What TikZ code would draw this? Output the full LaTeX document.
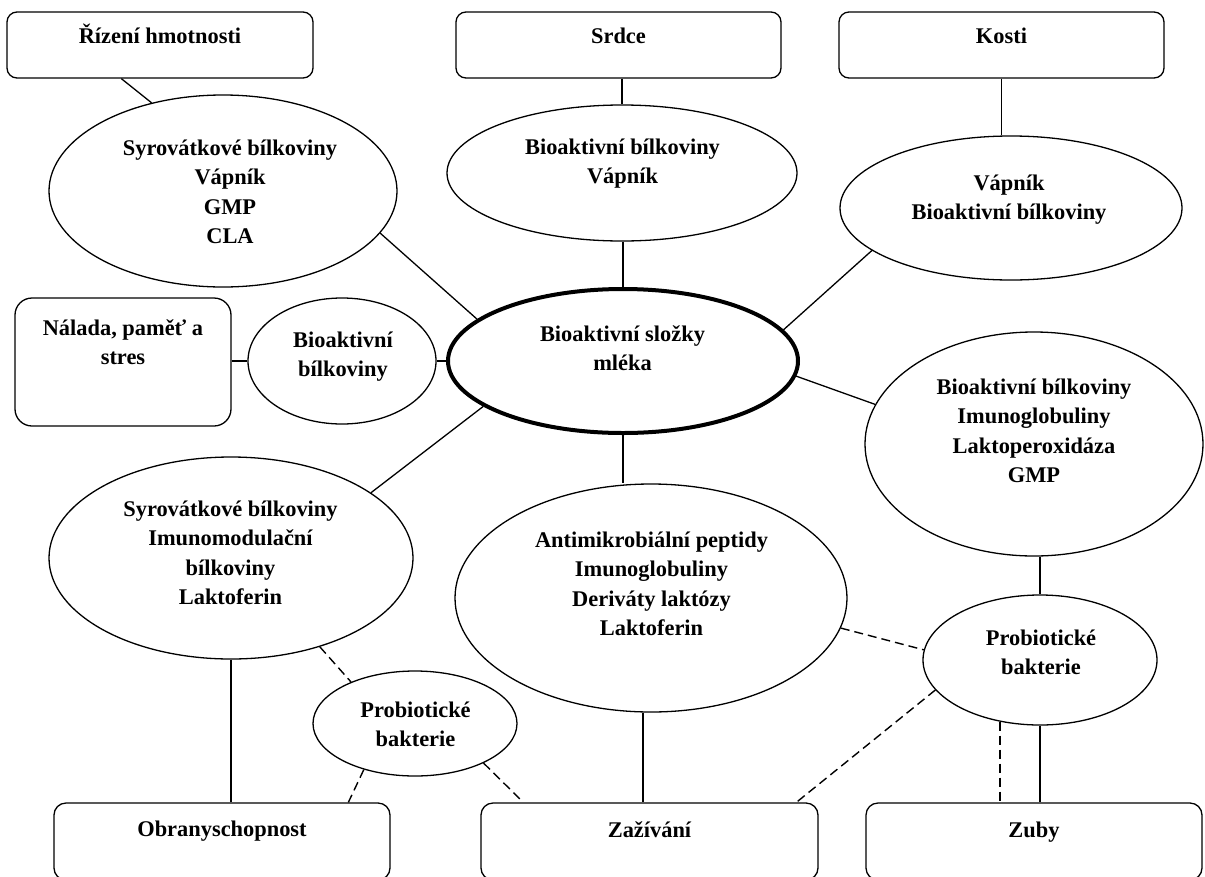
\documentclass[tikz,border=0pt]{standalone}
\usepackage{fontspec}
\setmainfont{Liberation Serif}
\usetikzlibrary{shapes.geometric,calc}
\newcommand\mlines[1]{\vtop{\halign{\hfil##\hfil\cr#1\crcr}}}
\begin{document}
\begin{tikzpicture}[x=1pt,y=-1pt,
  ln/.style={line width=1.3pt},
  dsh/.style={line width=1.4pt, dash pattern=on 9pt off 5pt},
  ell/.style={draw, ellipse, line width=1.3pt, inner sep=0pt, fill=white},
  box/.style={draw, rectangle, rounded corners=10pt, line width=1.3pt, inner sep=0pt},
  txt/.style={font=\bfseries\fontsize{22.4}{29.6}\selectfont, anchor=base, inner sep=0pt},
]
\useasboundingbox (0,0) rectangle (1205,876);
\clip (0,0) rectangle (1205,876);
\fill[white] (0,0) rectangle (1205,876);

% boxes
\node[box, minimum width=306pt, minimum height=66pt] (rh) at (160,45) {};
\node[box, minimum width=325pt, minimum height=66pt] (sr) at (618.5,45) {};
\node[box, minimum width=325pt, minimum height=66pt] (ko) at (1001.5,45) {};
\node[box, rounded corners=17pt, minimum width=216pt, minimum height=128pt] (na) at (123,362) {};
\node[box, rounded corners=12pt, minimum width=336pt, minimum height=77pt] (ob) at (222,841.5) {};
\node[box, rounded corners=12pt, minimum width=337pt, minimum height=77pt] (za) at (649.5,841.5) {};
\node[box, rounded corners=12pt, minimum width=336pt, minimum height=77pt] (zu) at (1034,841.5) {};

% ellipses
\node[ell, minimum width=348pt, minimum height=192pt] (s1) at (223,191) {};
\node[ell, minimum width=350pt, minimum height=136pt] (e2) at (622,173) {};
\node[ell, minimum width=342pt, minimum height=144pt] (e3) at (1011,208) {};
\node[ell, minimum width=188pt, minimum height=126pt] (e4) at (342,361) {};
\node[ell, line width=4pt, minimum width=350pt, minimum height=144pt] (c) at (623,361) {};
\node[ell, minimum width=364pt, minimum height=202pt] (e5) at (231,558) {};
\node[ell, minimum width=392pt, minimum height=228pt] (e6) at (651,598) {};
\node[ell, minimum width=338pt, minimum height=224pt] (e7) at (1034,444) {};
\node[ell, minimum width=204pt, minimum height=105pt] (p1) at (415,723.5) {};
\node[ell, minimum width=234pt, minimum height=130pt] (p2) at (1040,660) {};

% connectors
\draw[ln] ($(rh.south west)+(115,0)$) -- (s1.129.6);
\draw[ln] (s1.-15.2) -- (c.164.9);
\draw[ln] (e2.north |- sr.south) -- (e2.north);
\draw[ln] (c.north |- e2.south) -- (c.north);
\draw[ln] (ko.south) -- (ko.south |- e3.north);
\draw[ln] (e3.197.6) -- (c.11.65);
\draw[ln] (na.east |- e4.west) -- (e4.west);
\draw[ln] (e4.east) -- (c.west);
\draw[ln] (c.-5.2) -- (e7.166.8);
\draw[ln] (p2.north |- e7.south) -- (p2.north);
\draw[ln] (p2.south) -- (p2.south |- zu.north);
\draw[dsh] (p2.237.5) -- (p2.237.5 |- zu.north);
\draw[ln] (c.south) -- (c.south |- e6.north);
\draw[ln] (e6.266) -- (e6.266 |- za.north);
\draw[ln] (e5.25.7) -- (c.198);
\draw[ln] (e5.south) -- (e5.south |- ob.north);
\draw[dsh] (e5.-45.3) -- (p1.147.3);
\draw[dsh] (p1.222) -- ($(ob.north west)+(295,0)$);
\draw[dsh] (p1.-30.8) -- ($(za.north west)+(43,0)$);
\draw[dsh] (e6.-9.36) -- (p2.175.3);
\draw[dsh] (p2.196.1) -- ($(za.north west)+(316,0)$);

% texts
\node[txt] (trh) at (160,43) {Řízení hmotnosti};
\node[txt] (tsr) at (618.5,43) {Srdce};
\node[txt] (tko) at (1001.5,43) {Kosti};
\node[txt] (ts1) at (230,155) {\mlines{Syrovátkové bílkoviny\cr Vápník\cr GMP\cr CLA}};
\node[txt] (te2) at (622.5,154) {\mlines{Bioaktivní bílkoviny\cr Vápník}};
\node[txt] (te3) at (1009,190) {\mlines{Vápník\cr Bioaktivní bílkoviny}};
\node[txt] (tna) at (123,335) {\mlines{Nálada, paměť a\cr stres}};
\node[txt] (te4) at (343,347) {\mlines{Bioaktivní\cr bílkoviny}};
\node[txt] (tc) at (622.5,341) {\mlines{Bioaktivní složky\cr mléka}};
\node[txt] (te7) at (1034,394) {\mlines{Bioaktivní bílkoviny\cr Imunoglobuliny\cr Laktoperoxidáza\cr GMP}};
\node[txt] (te5) at (230.5,516) {\mlines{Syrovátkové bílkoviny\cr Imunomodulační\cr bílkoviny\cr Laktoferin}};
\node[txt] (te6) at (651.5,547) {\mlines{Antimikrobiální peptidy\cr Imunoglobuliny\cr Deriváty laktózy\cr Laktoferin}};
\node[txt] (tp1) at (415.5,717) {\mlines{Probiotické\cr bakterie}};
\node[txt] (tp2) at (1041,645) {\mlines{Probiotické\cr bakterie}};
\node[txt] (tob) at (222,836) {Obranyschopnost};
\node[txt] (tza) at (649.5,837) {Zažívání};
\node[txt] (tzu) at (1034,837) {Zuby};
\end{tikzpicture}
\end{document}
